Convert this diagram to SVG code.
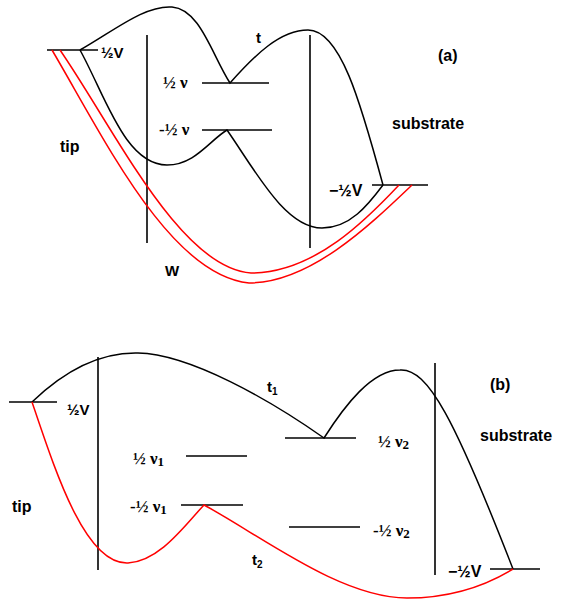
<svg xmlns="http://www.w3.org/2000/svg" width="566" height="601" viewBox="0 0 566 601">
<style>
.ln{stroke:#000;stroke-width:1.6;fill:none}
.bk{stroke:#000;stroke-width:1.5;fill:none}
.rd{stroke:#f00;stroke-width:1.5;fill:none}
.s{font-family:"Liberation Sans",Arial,sans-serif;font-weight:bold;fill:#000}
.f{font-family:"Liberation Serif","Times New Roman",serif;font-weight:bold;fill:#000;font-size:17px}
</style>
<rect width="566" height="601" fill="#fff"/>
<g id="panel-a">
  <g id="a-levels">
    <line class="ln" x1="47" y1="50" x2="98" y2="50"/>
    <line class="ln" x1="202" y1="83" x2="269" y2="83"/>
    <line class="ln" x1="202" y1="130" x2="272" y2="130"/>
    <line class="ln" x1="372" y1="185" x2="428" y2="185"/>
  </g>
  <g id="a-walls">
    <line class="ln" x1="147" y1="35" x2="147" y2="243"/>
    <line class="ln" x1="310" y1="35" x2="310" y2="248"/>
  </g>
  <g id="a-curves">
    <path class="bk" d="M80,50 C115,30 145,5 172,7 C200,9 212,55 230,83 C255,55 280,30 308,30 C340,30 360,100 383,185"/>
    <path class="bk" d="M80,50 C105,95 125,165 167,165 C195,165 210,140 227,130 C255,170 285,228 322,228 C350,228 368,205 383,185"/>
    <path class="rd" d="M52,50 C105,140 170,275 249,283 C310,283 370,225 412,185"/>
    <path class="rd" d="M60,50 C115,130 180,268 251,273 C315,273 368,218 399,185"/>
  </g>
  <g id="a-labels">
    <text class="s" x="101" y="58" font-size="15">½V</text>
    <text class="f" x="163" y="88">½ ν</text>
    <text class="f" x="159" y="135">-½ ν</text>
    <text class="s" x="256" y="43" font-size="15">t</text>
    <text class="s" x="438" y="61" font-size="16">(a)</text>
    <text class="s" x="392" y="129" font-size="16">substrate</text>
    <text class="s" x="60" y="152" font-size="16">tip</text>
    <text class="s" x="329" y="196" font-size="16">−½V</text>
    <text class="s" x="165" y="276" font-size="15">W</text>
  </g>
</g>
<g id="panel-b">
  <g id="b-levels">
    <line class="ln" x1="9" y1="402" x2="57" y2="402"/>
    <line class="ln" x1="186" y1="456" x2="247" y2="456"/>
    <line class="ln" x1="181" y1="505" x2="243" y2="505"/>
    <line class="ln" x1="285" y1="438" x2="356" y2="438"/>
    <line class="ln" x1="289" y1="527" x2="360" y2="527"/>
    <line class="ln" x1="490" y1="569" x2="540" y2="569"/>
  </g>
  <g id="b-walls">
    <line class="ln" x1="98" y1="357" x2="98" y2="570"/>
    <line class="ln" x1="435" y1="363" x2="435" y2="575"/>
  </g>
  <g id="b-curves">
    <path class="bk" d="M32,402 C60,375 95,352 138,353 C190,354 270,400 324,438 C345,405 372,370 400,370 C428,368 455,420 513,569"/>
    <path class="rd" d="M32,402 C55,470 85,565 128,563 C160,561 185,525 204,505 C260,535 340,598 407,598 C460,598 495,580 513,569"/>
  </g>
  <g id="b-labels">
    <text class="s" x="67" y="415" font-size="15">½V</text>
    <text class="f" x="133" y="464">½ ν<tspan font-size="13" dy="2">1</tspan></text>
    <text class="f" x="130" y="512">-½ ν<tspan font-size="13" dy="2">1</tspan></text>
    <text class="s" x="267" y="392" font-size="15">t<tspan font-size="10" dy="3">1</tspan></text>
    <text class="f" x="378" y="447">½ ν<tspan font-size="13" dy="2">2</tspan></text>
    <text class="f" x="373" y="536">-½ ν<tspan font-size="13" dy="2">2</tspan></text>
    <text class="s" x="252" y="565" font-size="15">t<tspan font-size="10" dy="3">2</tspan></text>
    <text class="s" x="490" y="390" font-size="16">(b)</text>
    <text class="s" x="480" y="441" font-size="16">substrate</text>
    <text class="s" x="12" y="512" font-size="16">tip</text>
    <text class="s" x="448" y="577" font-size="16">−½V</text>
  </g>
</g>
</svg>
